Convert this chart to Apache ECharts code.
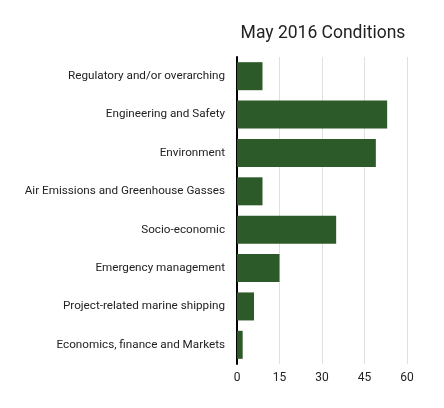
<!DOCTYPE html>
<html>
<head>
<meta charset="utf-8">
<script src="https://cdn.jsdelivr.net/npm/echarts@6/dist/echarts.min.js"></script>
<style>
  html, body { margin: 0; padding: 0; background: #fff; }
  #chart { width: 444px; height: 408px; }
</style>
</head>
<body>
<div id="chart"></div>
<script>
// categories top to bottom
var categories = [
  'Regulatory and/or overarching',
  'Engineering and Safety',
  'Environment',
  'Air Emissions and Greenhouse Gasses',
  'Socio-economic',
  'Emergency management',
  'Project-related marine shipping',
  'Economics, finance and Markets'
]
var conditions = [9, 53, 49, 9, 35, 15, 6, 2]
var xTicks = [0, 15, 30, 45, 60]

var chart = echarts.init(document.getElementById('chart'))
var font = 'Roboto'

var option = {
  animation: false,
  title: {
    text: 'May 2016 Conditions',
    left: 318,
    textAlign: 'center',
    top: 20,
    textStyle: { fontFamily: font, fontSize: 17.5, fontWeight: 'normal', color: '#222' }
  },
  grid: { left: 237, right: 37, top: 57, bottom: 44, containLabel: false },
  xAxis: {
    type: 'value',
    min: xTicks[0],
    max: xTicks[xTicks.length - 1],
    interval: 15,
    axisLine: { show: false },
    axisTick: { show: false },
    axisLabel: { fontFamily: font, fontSize: 12, color: '#222', margin: 8 },
    splitLine: { lineStyle: { color: '#e0e0e0', width: 1 } }
  },
  yAxis: {
    type: 'category',
    data: categories,
    inverse: true,
    axisLine: { lineStyle: { color: '#000', width: 2 } },
    axisTick: { show: false },
    axisLabel: { fontFamily: font, fontSize: 11.7, color: '#222', margin: 12 }
  },
  series: [{
    type: 'bar',
    data: conditions,
    barCategoryGap: '27%',
    itemStyle: { color: '#2d5a29' }
  }]
}
chart.setOption(option)
</script>
</body>
</html>
